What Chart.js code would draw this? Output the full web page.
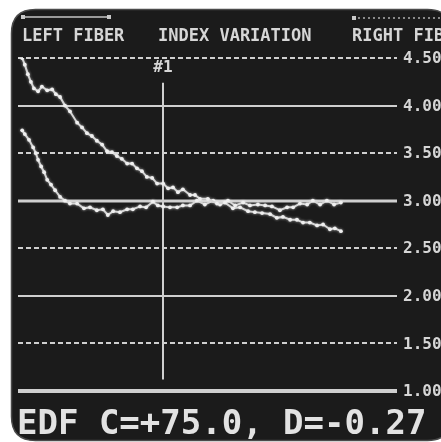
<!DOCTYPE html>
<html>
<head>
<meta charset="utf-8">
<script src="https://cdn.jsdelivr.net/npm/chart.js@4.4.1/dist/chart.umd.min.js"></script>
<style>
    html, body { margin: 0; padding: 0; background: #ffffff; }
    canvas { display: block; }
</style>
</head>
<body>
<canvas id="fiberChart" width="441" height="442"></canvas>
<script>
// Header / footer texts
const HEADER_LEFT = 'LEFT FIBER';
const HEADER_MID = 'INDEX VARIATION';
const HEADER_RIGHT = 'RIGHT FIBER';
const FOOTER_TEXT = 'EDF C=+75.0, D=-0.27';
const MARKER_LABEL = '#1';

// Y axis ticks (index variation)
const yTicks = [4.5, 4.0, 3.5, 3.0, 2.5, 2.0, 1.5, 1.0];
const yTickLabels = ['4.50', '4.00', '3.50', '3.00', '2.50', '2.00', '1.50', '1.00'];

// Marker #1 position along the fiber
const markerPos = 38.3;
const markerRange = [1.12, 4.24];

// Trace 1 (upper curve)
const posA = [1.1, 1.8, 2.6, 3.4, 4.2, 5.3, 6.3, 7.7, 9.0, 10.0, 11.1, 12.4, 13.7, 15.6, 16.9, 18.2,
    19.5, 20.8, 22.2, 23.5, 24.8, 26.1, 27.4, 28.8, 30.1, 31.4, 32.7, 34.0, 35.4, 36.7, 38.3, 39.6,
    40.9, 42.2, 43.5, 45.4, 46.7, 48.0, 50.1, 52.5, 54.6, 56.7, 58.6, 60.7, 62.5, 64.4, 66.5, 68.3,
    69.9, 71.8, 73.6, 75.2, 77.0, 78.9, 80.5, 82.3, 83.6, 85.2];
const valA = [4.50, 4.43, 4.33, 4.25, 4.18, 4.15, 4.20, 4.16, 4.17, 4.12, 4.09, 4.00, 3.94, 3.82, 3.77, 3.71,
    3.68, 3.63, 3.59, 3.52, 3.51, 3.47, 3.44, 3.39, 3.39, 3.34, 3.31, 3.25, 3.24, 3.18, 3.18, 3.13,
    3.14, 3.09, 3.12, 3.06, 3.06, 3.02, 3.02, 2.97, 2.98, 2.92, 2.93, 2.89, 2.88, 2.87, 2.86, 2.82,
    2.83, 2.80, 2.80, 2.77, 2.77, 2.74, 2.75, 2.70, 2.71, 2.68];

// Trace 2 (lower curve)
const posB = [1.1, 1.8, 2.9, 4.0, 4.7, 5.3, 6.1, 6.9, 7.7, 8.7, 9.8, 11.1, 12.4, 13.7, 15.6, 17.4,
    19.0, 20.8, 22.4, 23.7, 25.1, 26.9, 28.8, 30.3, 32.2, 33.8, 35.6, 36.9, 38.3, 40.1, 42.0, 43.5,
    45.4, 47.2, 49.3, 51.5, 53.3, 55.4, 57.3, 59.4, 61.2, 63.3, 65.2, 67.0, 69.1, 71.0, 72.6, 74.4,
    76.3, 77.8, 79.7, 81.5, 83.4, 85.2];
const valB = [3.74, 3.70, 3.64, 3.56, 3.50, 3.43, 3.36, 3.30, 3.22, 3.17, 3.11, 3.04, 3.00, 2.97, 2.97, 2.92,
    2.93, 2.90, 2.91, 2.85, 2.89, 2.88, 2.91, 2.91, 2.94, 2.93, 2.99, 2.95, 2.94, 2.93, 2.93, 2.95,
    2.95, 3.00, 2.96, 3.00, 2.96, 3.00, 2.95, 2.98, 2.95, 2.96, 2.95, 2.94, 2.90, 2.93, 2.93, 2.97,
    2.96, 3.00, 2.96, 3.00, 2.96, 2.98];

const SCREEN_BG = '#1b1b1b';
const INK = '#d6d6d6';
const MONO = "'DejaVu Sans Mono', 'Liberation Mono', monospace";

function toPoints(xs, ys) {
    return xs.map((x, i) => ({ x: x, y: ys[i] }));
}

function roundRect(ctx, x, y, w, h, r) {
    ctx.beginPath();
    ctx.moveTo(x + r, y);
    ctx.lineTo(x + w - r, y);
    ctx.quadraticCurveTo(x + w, y, x + w, y + r);
    ctx.lineTo(x + w, y + h - r);
    ctx.quadraticCurveTo(x + w, y + h, x + w - r, y + h);
    ctx.lineTo(x + r, y + h);
    ctx.quadraticCurveTo(x, y + h, x, y + h - r);
    ctx.lineTo(x, y + r);
    ctx.quadraticCurveTo(x, y, x + r, y);
    ctx.closePath();
}

// Screen background, grid and marker
const screenPlugin = {
    id: 'screen',
    beforeDraw(chart) {
        const ctx = chart.ctx;
        ctx.save();
        ctx.fillStyle = '#ffffff';
        ctx.fillRect(0, 0, chart.width, chart.height);
        roundRect(ctx, 11.5, 9.5, 440, 431, 24);
        ctx.fillStyle = SCREEN_BG;
        ctx.fill();
        ctx.strokeStyle = '#4a4a4a';
        ctx.lineWidth = 1.5;
        ctx.stroke();
        ctx.restore();
    },
    beforeDatasetsDraw(chart) {
        const ctx = chart.ctx;
        const area = chart.chartArea;
        const y = chart.scales.y;
        const x = chart.scales.x;
        ctx.save();
        ctx.strokeStyle = '#cfcfcf';
        yTicks.forEach(v => {
            const py = Math.round(y.getPixelForValue(v));
            const whole = Math.abs(v - Math.round(v)) < 0.01;
            ctx.beginPath();
            if (whole) {
                ctx.setLineDash([]);
                ctx.lineWidth = v === 1.0 ? 4 : (v === 3.0 ? 3 : 2);
            } else {
                ctx.setLineDash([5, 3]);
                ctx.lineWidth = 2;
            }
            ctx.moveTo(area.left, py);
            ctx.lineTo(area.right, py);
            ctx.stroke();
        });
        ctx.setLineDash([]);

        // marker line
        const mx = Math.round(x.getPixelForValue(markerPos));
        ctx.lineWidth = 2;
        ctx.beginPath();
        ctx.moveTo(mx, y.getPixelForValue(markerRange[1]));
        ctx.lineTo(mx, y.getPixelForValue(markerRange[0]));
        ctx.stroke();

        ctx.fillStyle = INK;
        ctx.font = 'bold 16px ' + MONO;
        ctx.textAlign = 'center';
        ctx.textBaseline = 'middle';
        ctx.fillText(MARKER_LABEL, mx, y.getPixelForValue(markerRange[1]) - 15);
        ctx.restore();

        // soft glow for the traces
        ctx.save();
        ctx.shadowColor = 'rgba(255, 255, 255, 0.45)';
        ctx.shadowBlur = 3;
    },
    afterDatasetsDraw(chart) {
        chart.ctx.restore();
    },
    afterDraw(chart) {
        const ctx = chart.ctx;
        const area = chart.chartArea;
        const y = chart.scales.y;
        ctx.save();
        ctx.fillStyle = INK;
        ctx.textBaseline = 'middle';
        ctx.textAlign = 'left';
        ctx.font = 'bold 16px ' + MONO;
        yTicks.forEach((v, i) => {
            ctx.fillText(yTickLabels[i], area.right + 6, y.getPixelForValue(v) + 1);
        });

        // header
        ctx.textBaseline = 'alphabetic';
        ctx.font = 'bold 17px ' + MONO;
        ctx.fillText(HEADER_LEFT, 22, 41);
        ctx.fillText(HEADER_MID, 158, 41);
        ctx.fillText(HEADER_RIGHT, 352, 41);

        // header bars
        ctx.strokeStyle = '#9a9a9a';
        ctx.lineWidth = 2;
        ctx.beginPath();
        ctx.moveTo(22, 17);
        ctx.lineTo(110, 17);
        ctx.stroke();
        ctx.fillStyle = '#c8c8c8';
        ctx.fillRect(21, 15, 4, 4);
        ctx.fillRect(107, 15, 4, 4);
        ctx.fillRect(352, 16, 4, 4);
        ctx.fillStyle = '#8a8a8a';
        for (let px = 358; px < 441; px += 5) {
            ctx.fillRect(px, 17, 2, 2);
        }

        // footer
        ctx.fillStyle = '#e2e2e2';
        ctx.font = 'bold 34px ' + MONO;
        ctx.fillText(FOOTER_TEXT, 17, 434);
        ctx.restore();
    }
};

function traceDataset(label, xs, ys) {
    return {
        label: label,
        data: toPoints(xs, ys),
        showLine: true,
        borderColor: '#d4d4d4',
        borderWidth: 2,
        pointRadius: 1.9,
        pointBackgroundColor: '#efefef',
        pointBorderWidth: 0,
        tension: 0
    };
}

const ctx = document.getElementById('fiberChart').getContext('2d');
new Chart(ctx, {
    type: 'scatter',
    data: {
        datasets: [
            traceDataset('Trace 1', posA, valA),
            traceDataset('Trace 2', posB, valB)
        ]
    },
    options: {
        responsive: false,
        animation: false,
        devicePixelRatio: 1,
        layout: { padding: { left: 18, top: 58, right: 44, bottom: 51 } },
        plugins: { legend: { display: false }, tooltip: { enabled: false } },
        scales: {
            x: { display: false, min: 0, max: 100 },
            y: { display: false, min: 1, max: 4.5 }
        }
    },
    plugins: [screenPlugin]
});
</script>
</body>
</html>
